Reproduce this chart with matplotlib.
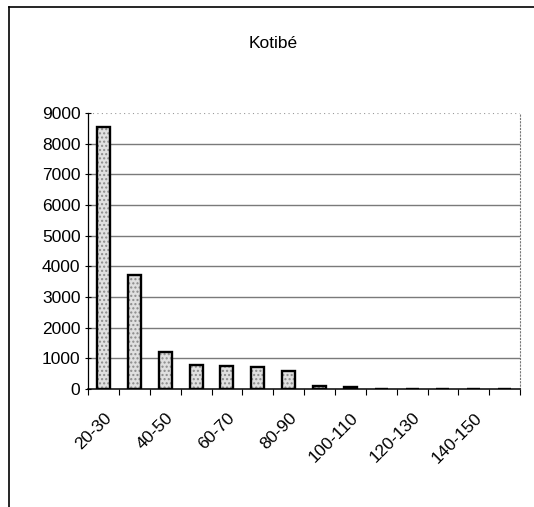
import matplotlib.pyplot as plt
from matplotlib.lines import Line2D
from matplotlib.transforms import ScaledTranslation

plt.rcParams['font.family'] = ['Liberation Sans', 'DejaVu Sans']

classes = ['20-30', '30-40', '40-50', '50-60', '60-70', '70-80', '80-90',
           '90-100', '100-110', '110-120', '120-130', '130-140', '140-150', '150-160']
counts = [8560, 3720, 1200, 790, 740, 720, 600, 100, 60, 0, 15, 15, 15, 15]
yticks = [0, 1000, 2000, 3000, 4000, 5000, 6000, 7000, 8000, 9000]

fig = plt.figure(figsize=(5.34, 5.07), dpi=100)
ax = fig.add_axes([0.165, 0.2327, 0.809, 0.5443])

x = list(range(len(classes)))
# stippled fill then outline
ax.bar(x, counts, width=0.42, color='#e0e0e0', edgecolor='#8a8a8a', hatch='....', lw=0, zorder=2)
ax.bar(x, counts, width=0.42, facecolor='none', edgecolor='black', lw=1.7, zorder=3)

ax.set_xlim(-0.5, len(classes) - 0.5)
ax.set_ylim(0, 9000)
ax.set_yticks(yticks)
ax.set_yticklabels([str(v) for v in yticks], fontsize=12.5)
for v in yticks[1:-1]:
    ax.axhline(v, color='#7a7a7a', lw=1, zorder=1)
ax.axhline(9000, color='#9a9a9a', lw=0.8, ls=(0, (1, 3)), zorder=1)

ax.set_xticks([i - 0.5 for i in range(len(classes) + 1)])
ax.set_xticklabels([])
ax.set_xticks(x[::2], minor=True)
ax.set_xticklabels(classes[::2], minor=True, rotation=45, ha='right',
                   rotation_mode='anchor', fontsize=12.5)
shift = ScaledTranslation(-6 / 100, 0, fig.dpi_scale_trans)
for lab in ax.get_xticklabels(minor=True):
    lab.set_transform(lab.get_transform() + shift)
ax.tick_params(axis='x', which='minor', length=0, pad=15)
ax.tick_params(axis='x', which='major', length=4, direction='out', width=0.8)
ax.tick_params(axis='y', length=5, direction='inout', width=0.8, pad=3)

ax.spines['top'].set_visible(False)
ax.spines['right'].set_linestyle((0, (1, 2)))
ax.spines['right'].set_color('#777777')
ax.spines['right'].set_linewidth(0.8)
ax.spines['left'].set_linewidth(0.9)
ax.spines['bottom'].set_linewidth(1.1)

fig.text(0.512, 0.915, 'Kotibé', ha='center', va='center', fontsize=12.5)

# outer chart frame (left and top edges)
fig.add_artist(Line2D([9 / 534, 9 / 534], [0, 500 / 507], color='black', lw=1.2))
fig.add_artist(Line2D([9 / 534, 1], [500 / 507, 500 / 507], color='black', lw=1.2))

fig.savefig('out.png', dpi=100)
